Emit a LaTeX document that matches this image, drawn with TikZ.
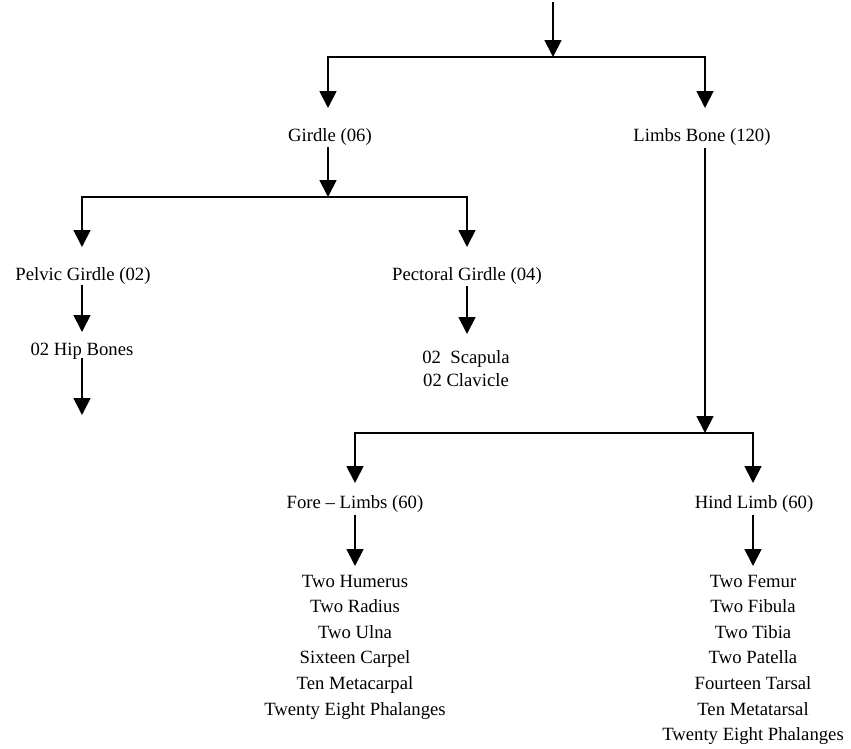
\documentclass[tikz,border=0pt]{standalone}
\usepackage{fontspec}
\setmainfont{Liberation Serif}
\usetikzlibrary{arrows.meta}
\newcommand\lblfont{\fontsize{18.7pt}{25.6pt}\selectfont}
\newcommand\lblfontb{\fontsize{18.7pt}{23pt}\selectfont}
\begin{document}
\begin{tikzpicture}[x=1pt,y=-1pt,
  arr/.style={line width=1.8pt,-{Triangle[length=17pt,width=17pt]}},
  lbl/.style={anchor=base,inner sep=0pt,font=\lblfont,align=center},
  lblb/.style={anchor=base,inner sep=0pt,font=\lblfontb,align=center}]
\useasboundingbox (0,0) rectangle (851,748);
% top level
\coordinate (top) at (553,2);
\coordinate (j1) at (553,57);
\coordinate (girdle-in) at (328,108);
\coordinate (limbs-in) at (705,108);
\draw[arr] (top) -- (j1);
\draw[arr] (j1) -| (girdle-in);
\draw[arr] (j1) -| (limbs-in);
\node[lbl] (girdle) at (330,141) {Girdle (06)};
\node[lbl] (limbs) at (702,141) {Limbs Bone (120)};
% girdle branch
\coordinate (girdle-out) at (328,147);
\coordinate (j2) at (328,197);
\coordinate (pelvic-in) at (82,247);
\coordinate (pect-in) at (467,247);
\draw[arr] (girdle-out) -- (j2);
\draw[arr] (j2) -| (pelvic-in);
\draw[arr] (j2) -| (pect-in);
\node[lbl] (pelvic) at (83,280) {Pelvic Girdle (02)};
\node[lbl] (pect) at (467,280) {Pectoral Girdle (04)};
\coordinate (pelvic-out) at (82,285);
\coordinate (hip-in) at (82,332);
\draw[arr] (pelvic-out) -- (hip-in);
\node[lbl] (hip) at (82,355) {02 Hip Bones};
\coordinate (hip-out) at (82,358);
\coordinate (hip-end) at (82,415);
\draw[arr] (hip-out) -- (hip-end);
\coordinate (pect-out) at (467,286);
\coordinate (scap-in) at (467,334);
\draw[arr] (pect-out) -- (scap-in);
% base anchor of a multi-line node = baseline of its last line
\node[lblb] (scap) at (466,386) {02\ \ Scapula\\02 Clavicle};
% limbs branch
\coordinate (limbs-out) at (705,148);
\coordinate (j3) at (705,433);
\coordinate (fore-in) at (355,483);
\coordinate (hind-in) at (753,483);
\draw[arr] (limbs-out) -- (j3);
\draw[arr] (j3) -| (fore-in);
\draw[arr] (j3) -| (hind-in);
\node[lbl] (fore) at (355,508) {Fore -- Limbs (60)};
\node[lbl] (hind) at (754,508) {Hind Limb (60)};
\coordinate (fore-out) at (355,515);
\coordinate (forelist-in) at (355,566);
\coordinate (hind-out) at (753,515);
\coordinate (hindlist-in) at (753,566);
\draw[arr] (fore-out) -- (forelist-in);
\draw[arr] (hind-out) -- (hindlist-in);
\node[lbl] (forelist) at (355,715) {Two Humerus\\Two Radius\\Two Ulna\\Sixteen Carpel\\Ten Metacarpal\\Twenty Eight Phalanges};
\node[lbl] (hindlist) at (753,740.6) {Two Femur\\Two Fibula\\Two Tibia\\Two Patella\\Fourteen Tarsal\\Ten Metatarsal\\Twenty Eight Phalanges};
\end{tikzpicture}
\end{document}
